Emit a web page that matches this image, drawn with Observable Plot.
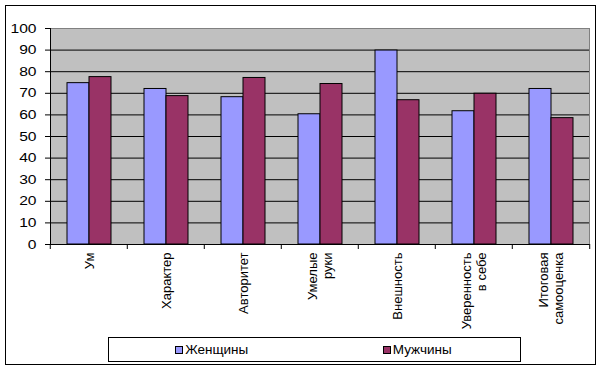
<!DOCTYPE html>
<html>
<head>
<meta charset="utf-8">
<script src="https://cdn.jsdelivr.net/npm/d3@7"></script>
<script src="https://cdn.jsdelivr.net/npm/@observablehq/plot@0.6"></script>
<style>
  html, body { margin: 0; padding: 0; background: #fff; overflow: hidden; }
  #wrap { position: relative; width: 602px; height: 370px; font-family: "Liberation Sans", Arial, sans-serif; }
  #border { position: absolute; left: 5px; top: 5px; width: 591px; height: 360px; border: 1px solid #000; box-sizing: border-box; }
  #chart { position: absolute; left: 0; top: 0; }
  #legend { position: absolute; left: 108px; top: 337px; width: 413px; height: 25px; border: 1px solid #000; box-sizing: border-box; background: #fff; }
  #legend > div { display: flex !important; width: 100%; height: 100%; margin: 0 !important; min-height: 0 !important; align-items: center; flex-wrap: nowrap !important; }
  #legend span { flex: 1 1 0; display: flex !important; justify-content: center; align-items: center; margin: 0 !important; font-size: 13.5px; color: #000; font-family: "Liberation Sans", Arial, sans-serif; }
  #legend svg { border: 1px solid #000; margin-right: 2px !important; }
</style>
</head>
<body>
<div id="wrap">
  <div id="border"></div>
  <div id="chart"></div>
  <div id="legend"></div>
</div>
<script>
const categories = ["Ум", "Характер", "Авторитет", "Умелые\nруки", "Внешность", "Уверенность\nв себе", "Итоговая\nсамооценка"];
const series = ["Женщины", "Мужчины"];
const women = [74.7, 72.0, 68.2, 60.3, 89.8, 61.7, 72.0];
const men = [77.5, 68.7, 77.1, 74.3, 66.8, 69.8, 58.5];
const colors = ["#9999ff", "#993366"];
const yTicks = [0, 10, 20, 30, 40, 50, 60, 70, 80, 90, 100];

const data = categories.flatMap((c, i) => [
  {category: c, series: series[0], value: women[i]},
  {category: c, series: series[1], value: men[i]}
]);

const W = 602, H = 335, mL = 48, mR = 12, mT = 28, mB = 91;
const step = (W - mL - mR) / categories.length;

const chart = Plot.plot({
  width: W, height: H,
  marginLeft: mL, marginRight: mR, marginTop: mT, marginBottom: mB,
  style: {fontFamily: "'Liberation Sans', Arial, sans-serif", fontSize: "12px", color: "#000", background: "transparent", overflow: "visible"},
  fx: {domain: categories, padding: 0, label: null},
  x: {domain: series, paddingInner: 0, paddingOuter: 0.72, axis: null},
  y: {domain: [0, 100], label: null},
  color: {domain: series, range: colors},
  marks: [
    Plot.frame({fill: "#c0c0c0", stroke: "none", shapeRendering: "crispEdges"}),
    Plot.ruleY(yTicks.filter(t => t > 0 && t < 100), {stroke: "#000", strokeWidth: 1}),
    Plot.ruleY([100], {stroke: "#808080"}),
    Plot.frame({anchor: "right", facetAnchor: "right", stroke: "#808080"}),
    Plot.barY(data, {fx: "category", x: "series", y: "value", fill: "series", stroke: "#000", strokeWidth: 1}),
    Plot.ruleY([0], {stroke: "#000"}),
    Plot.frame({anchor: "left", facetAnchor: "left", stroke: "#000"}),
    Plot.axisY({ticks: yTicks, tickSize: 5, tickPadding: 9, fontSize: 13, label: null, stroke: "#000"}),
    Plot.axisFx({anchor: "bottom", tickSize: 0, tickRotate: -90, tickPadding: 8, fontSize: 13, lineHeight: 1.15, label: null}),
    Plot.axisFx({anchor: "bottom", text: null, tickSize: 5, dx: -step / 2, label: null}),
    Plot.axisFx({anchor: "bottom", ticks: [categories[categories.length - 1]], text: null, tickSize: 5, dx: step / 2, label: null})
  ]
});
document.getElementById("chart").appendChild(chart);

// Excel-style horizontal stretch of the value labels
d3.select(chart).selectAll('g[aria-label="y-axis tick label"] text').each(function () {
  const len = this.getComputedTextLength();
  this.setAttribute("textLength", len * 1.2);
  this.setAttribute("lengthAdjust", "spacingAndGlyphs");
});

const legend = Plot.legend({color: {domain: series, range: colors}, legend: "swatches", swatchSize: 6});
document.getElementById("legend").appendChild(legend);
</script>
</body>
</html>
